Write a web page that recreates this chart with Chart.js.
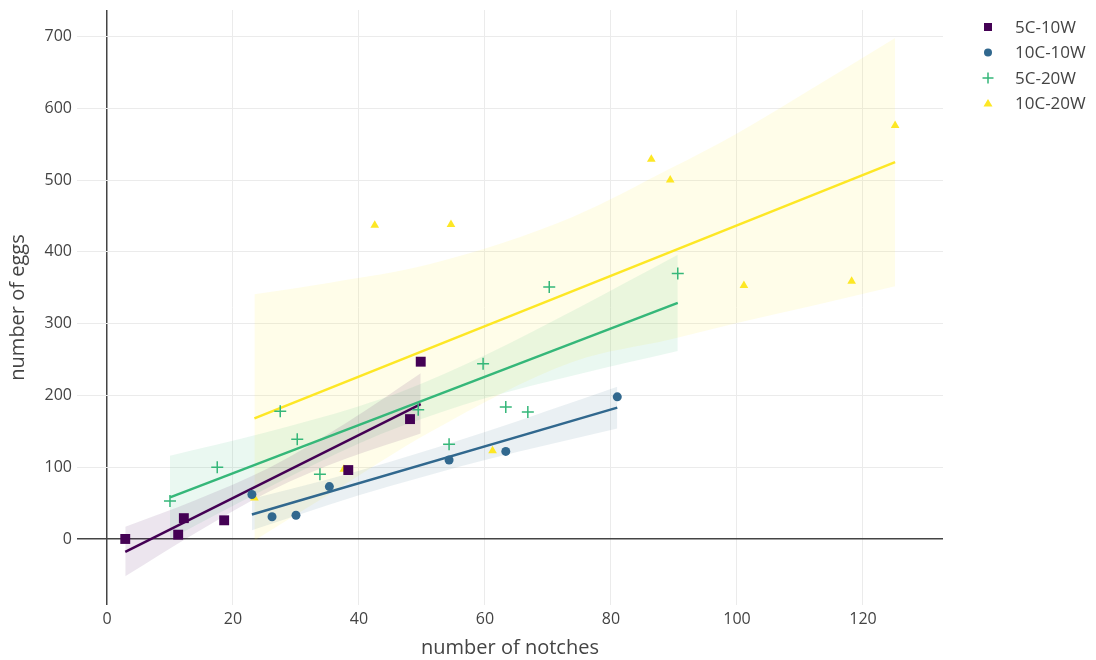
<!DOCTYPE html>
<html>
<head>
<meta charset="utf-8">
<script src="https://cdn.jsdelivr.net/npm/chart.js@4/dist/chart.umd.min.js"></script>
<style>
  html, body { margin: 0; padding: 0; background: #fff; }
  #wrap { width: 1096px; height: 660px; }
</style>
</head>
<body>
<div id="wrap"><canvas id="chart" width="1096" height="660"></canvas></div>
<script>
// series names + colours (viridis)
const seriesNames = ['5C-10W', '10C-10W', '5C-20W', '10C-20W'];
const seriesColors = ['#440154', '#31688e', '#35b779', '#fde725'];
const bandColors = ['rgba(68,1,84,0.10)', 'rgba(49,104,142,0.10)', 'rgba(53,183,121,0.10)', 'rgba(253,231,37,0.10)'];

// raw points
const notches5C10W = [2.9, 11.3, 12.2, 18.6, 38.3, 48.1, 49.8];
const eggs5C10W = [0, 6, 29, 26, 96, 167, 247];
const notches10C10W = [23.0, 26.2, 30.0, 35.3, 54.3, 63.3, 81.0];
const eggs10C10W = [62, 31, 33, 73, 110, 122, 198];
const notches5C20W = [10.0, 17.5, 27.5, 30.2, 33.8, 49.4, 54.3, 59.7, 63.3, 66.8, 70.2, 90.6];
const eggs5C20W = [53, 100, 178, 139, 90, 180, 132, 244, 184, 177, 351, 370];
const notches10C20W = [23.4, 37.6, 42.5, 54.6, 61.2, 86.4, 89.4, 101.1, 118.2, 125.1];
const eggs10C20W = [57, 97, 437, 438, 123, 529, 500, 353, 359, 576];

// fitted lines (end points)
const fitX5C10W = [2.9, 49.8], fitY5C10W = [-18, 188];
const fitX10C10W = [23.0, 81.0], fitY10C10W = [34, 183];
const fitX5C20W = [10.0, 90.6], fitY5C20W = [58, 329];
const fitX10C20W = [23.4, 125.1], fitY10C20W = [168, 525];

// confidence bands
const bandX5C10W = [2.9, 14, 25.9, 38, 49.8];
const bandHi5C10W = [17, 54, 100, 162, 231];
const bandLo5C10W = [-52, 8, 67, 112, 147];
const bandX10C10W = [23.0, 35, 44.7, 60, 81.0];
const bandHi10C10W = [56, 83, 107, 149, 212];
const bandLo10C10W = [12, 47, 73, 110, 154];
const bandX5C20W = [10.0, 25, 40, 47, 60, 75, 90.6];
const bandHi5C20W = [116, 148, 185, 206, 256, 323, 396];
const bandLo5C20W = [0, 69, 133, 158, 196, 230, 262];
const bandX10C20W = [23.4, 35.4, 51.3, 74, 89.4, 100, 112, 125.1];
const bandHi10C20W = [341, 357, 383, 449, 516, 565, 628, 698];
const bandLo10C20W = [-2, 63, 149, 247, 278, 301, 325, 352];

const xTicks = [0, 20, 40, 60, 80, 100, 120];
const yTicks = [0, 100, 200, 300, 400, 500, 600, 700];

const pts = (xs, ys) => xs.map((x, i) => ({ x: x, y: ys[i] }));

const series = [
  { px: notches5C10W, py: eggs5C10W, fx: fitX5C10W, fy: fitY5C10W, bx: bandX5C10W, hi: bandHi5C10W, lo: bandLo5C10W, style: 'rect', r: 7 },
  { px: notches10C10W, py: eggs10C10W, fx: fitX10C10W, fy: fitY10C10W, bx: bandX10C10W, hi: bandHi10C10W, lo: bandLo10C10W, style: 'circle', r: 4.5 },
  { px: notches5C20W, py: eggs5C20W, fx: fitX5C20W, fy: fitY5C20W, bx: bandX5C20W, hi: bandHi5C20W, lo: bandLo5C20W, style: 'cross', r: 6 },
  { px: notches10C20W, py: eggs10C20W, fx: fitX10C20W, fy: fitY10C20W, bx: bandX10C20W, hi: bandHi10C20W, lo: bandLo10C20W, style: 'triangle', r: 5 }
];

const datasets = [];
series.forEach((s, i) => {
  datasets.push({
    type: 'line', data: pts(s.bx, s.hi), fill: '+1', backgroundColor: bandColors[i],
    borderWidth: 0, pointRadius: 0, cubicInterpolationMode: 'monotone', order: 3
  });
  datasets.push({
    type: 'line', data: pts(s.bx, s.lo), fill: false,
    borderWidth: 0, pointRadius: 0, cubicInterpolationMode: 'monotone', order: 3
  });
  datasets.push({
    type: 'line', data: pts(s.fx, s.fy), fill: false, borderColor: seriesColors[i],
    borderWidth: 2.5, pointRadius: 0, order: 2
  });
  datasets.push({
    type: 'scatter', label: seriesNames[i], data: pts(s.px, s.py),
    pointStyle: s.style, pointRadius: s.r, pointHoverRadius: s.r,
    backgroundColor: seriesColors[i], borderColor: seriesColors[i],
    borderWidth: s.style === 'cross' ? 1.5 : 0, order: 1
  });
});

const FONT = "'Open Sans', 'DejaVu Sans', sans-serif";
const TXT = '#444';

// plotly-ish legend on the right
const sideLegend = {
  id: 'sideLegend',
  afterDraw(chart) {
    const ctx = chart.ctx;
    ctx.save();
    ctx.font = '17px ' + FONT;
    ctx.textBaseline = 'middle';
    ctx.textAlign = 'left';
    series.forEach((s, i) => {
      const x = 988, y = 27 + i * 25.5;
      ctx.fillStyle = seriesColors[i];
      ctx.strokeStyle = seriesColors[i];
      ctx.beginPath();
      if (s.style === 'rect') {
        ctx.rect(x - 4, y - 4, 8, 8);
        ctx.fill();
      } else if (s.style === 'circle') {
        ctx.arc(x, y, 4, 0, Math.PI * 2);
        ctx.fill();
      } else if (s.style === 'cross') {
        ctx.lineWidth = 1.5;
        ctx.moveTo(x - 5.5, y); ctx.lineTo(x + 5.5, y);
        ctx.moveTo(x, y - 5.5); ctx.lineTo(x, y + 5.5);
        ctx.stroke();
      } else {
        ctx.moveTo(x, y - 4.5); ctx.lineTo(x + 4.5, y + 3); ctx.lineTo(x - 4.5, y + 3);
        ctx.closePath();
        ctx.fill();
      }
      ctx.fillStyle = TXT;
      ctx.fillText(seriesNames[i], 1015, y + 1);
    });
    ctx.restore();
  }
};

// zero lines dark, rest light grey
const gridColor = (c) => (c.tick && c.tick.value === 0 ? '#444' : '#ebebeb');
const gridWidth = (c) => (c.tick && c.tick.value === 0 ? 1.5 : 1);

new Chart(document.getElementById('chart'), {
  type: 'scatter',
  data: { datasets: datasets },
  plugins: [sideLegend],
  options: {
    responsive: false,
    animation: false,
    layout: { padding: { left: 0, right: 153, top: 10, bottom: 0 } },
    plugins: { legend: { display: false }, tooltip: { enabled: false } },
    scales: {
      x: {
        type: 'linear', min: -4.76, max: 132.7,
        afterBuildTicks: (sc) => { sc.ticks = xTicks.map(v => ({ value: v })); },
        afterFit: (sc) => { sc.height = 55; sc.paddingLeft = 0; sc.paddingRight = 0; },
        grid: { color: gridColor, lineWidth: gridWidth, drawTicks: false },
        border: { display: false },
        ticks: { color: TXT, font: { family: FONT, size: 16 }, padding: 5 },
        title: { display: true, text: 'number of notches', color: TXT, font: { family: FONT, size: 20 }, padding: { top: 0, bottom: 0 } }
      },
      y: {
        type: 'linear', min: -92, max: 737,
        afterBuildTicks: (sc) => { sc.ticks = yTicks.map(v => ({ value: v })); },
        afterFit: (sc) => { sc.width = 77; sc.paddingTop = 0; sc.paddingBottom = 0; },
        grid: { color: gridColor, lineWidth: gridWidth, drawTicks: false },
        border: { display: false },
        ticks: { color: TXT, font: { family: FONT, size: 16 }, padding: 5 },
        title: { display: true, text: 'number of eggs', color: TXT, font: { family: FONT, size: 20 }, padding: { top: 6, bottom: 0 } }
      }
    }
  }
});
</script>
</body>
</html>
